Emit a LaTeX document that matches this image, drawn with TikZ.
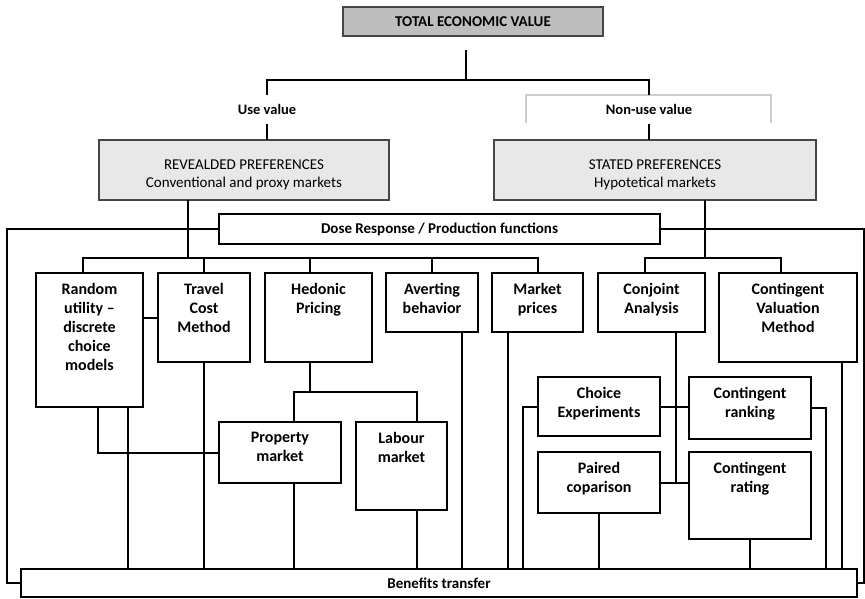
\documentclass[tikz,border=0pt]{standalone}
\usepackage{fontspec}
\setmainfont{Carlito}
\usetikzlibrary{positioning,calc}
\definecolor{TopGray}{RGB}{190,190,190}
\definecolor{PrefGray}{RGB}{232,232,232}
\definecolor{EdgeGray}{RGB}{70,70,70}
\definecolor{FrameLight}{RGB}{205,205,205}

\begin{document}
\begin{tikzpicture}[x=1pt,y=-1pt,line width=2pt,
  box/.style={draw,fill=white,line width=2pt,anchor=north west,inner sep=0pt,outer sep=0pt,
              font=\bfseries\fontsize{15}{19}\selectfont},
  pref/.style={box,draw=EdgeGray,fill=PrefGray,line width=1.6pt},
  txt/.style={anchor=north,align=center,inner sep=0pt,yshift=-9pt,
              font=\bfseries\fontsize{16}{19}\selectfont},
  preftxt/.style={txt,yshift=-9.5pt,font=\fontsize{15}{18}\selectfont},
  vlabel/.style={inner sep=0pt,outer sep=0pt,minimum height=29pt,
                 font=\bfseries\fontsize{14.5}{18}\selectfont}]
  \useasboundingbox (0,0) rectangle (865,599);

  % top of the tree
  \node[box,draw=EdgeGray,fill=TopGray,line width=1.6pt,minimum width=260pt,minimum height=29pt,
        font=\bfseries\fontsize{15}{18}\selectfont] (tev) at (343,7) {TOTAL ECONOMIC VALUE};
  \node[vlabel] (uv) at (267,109.5) {Use value};
  \node[vlabel] (nuv) at (649,109.5) {Non-use value};
  \draw[FrameLight,line width=1.2pt] (526,123) |- (771,95) -- (771,123);

  \node[pref,minimum width=290pt,minimum height=60pt,
        label={[preftxt]north:{REVEALDED PREFERENCES\\Conventional and proxy markets}}] (rp) at (99,140) {};
  \node[pref,minimum width=322pt,minimum height=60pt,
        label={[preftxt]north:{STATED PREFERENCES\\Hypotetical markets}}] (sp) at (494,140) {};

  % dose response bar
  \node[box,minimum width=441pt,minimum height=30pt] (dose) at (219,214) {Dose Response / Production functions};

  % methods row
  \node[box,minimum width=107pt,minimum height=134pt,
        label={[txt]north:{Random\\utility –\\discrete\\choice\\models}}] (ru) at (36,273) {};
  \node[box,minimum width=92pt,minimum height=89pt,
        label={[txt]north:{Travel\\Cost\\Method}}] (tc) at (158,273) {};
  \node[box,minimum width=107pt,minimum height=89pt,
        label={[txt]north:{Hedonic\\Pricing}}] (hp) at (265,273) {};
  \node[box,minimum width=92pt,minimum height=59pt,
        label={[txt]north:{Averting\\behavior}}] (ab) at (386,273) {};
  \node[box,minimum width=91pt,minimum height=59pt,
        label={[txt]north:{Market\\prices}}] (mp) at (492,273) {};
  \node[box,minimum width=107pt,minimum height=59pt,
        label={[txt]north:{Conjoint\\Analysis}}] (ca) at (598,273) {};
  \node[box,minimum width=138pt,minimum height=89pt,
        label={[txt]north:{Contingent\\Valuation\\Method}}] (cvm) at (719,273) {};

  % sub methods
  \node[box,minimum width=122pt,minimum height=61pt,
        label={[txt]north:{Property\\market}}] (pm) at (219,422) {};
  \node[box,minimum width=91pt,minimum height=88pt,
        label={[txt]north:{Labour\\market}}] (lm) at (356,422) {};
  \node[box,minimum width=122pt,minimum height=59pt,
        label={[txt]north:{Choice\\Experiments}}] (ce) at (538,377) {};
  \node[box,minimum width=122pt,minimum height=62pt,
        label={[txt]north:{Contingent\\ranking}}] (cr) at (689,377) {};
  \node[box,minimum width=122pt,minimum height=61pt,
        label={[txt]north:{Paired\\coparison}}] (pc) at (538,452) {};
  \node[box,minimum width=122pt,minimum height=87pt,
        label={[txt]north:{Contingent\\rating}}] (crt) at (689,452) {};

  % benefits transfer bar
  \node[box,minimum width=836pt,minimum height=28pt] (bt) at (21,569) {Benefits transfer};

  % connectors
  \coordinate (trunk) at (466,50);
  \coordinate (split) at (466,80);
  \coordinate (lbus) at (188,258);
  \coordinate (rbus) at (705,258);
  \coordinate (hbus) at (310,392);
  \coordinate (lrail) at (7,0);
  \coordinate (rrail) at (864,0);

  \draw (trunk) -- (split);
  \draw (uv.north) |- (split) -| (nuv.north);
  \draw (uv.south) -- (uv.south |- rp.north);
  \draw (nuv.south) -- (nuv.south |- sp.north);

  \draw (lbus |- rp.south) -- (lbus);
  \draw (rbus |- sp.south) -- (rbus);
  \draw ([xshift=-7pt]ru.north) |- (lbus) -| (mp.north);
  \draw (tc.north) -- (tc.north |- lbus);
  \draw (hbus |- hp.north) -- (hbus |- lbus);
  \draw (ab.north) -- (ab.north |- lbus);
  \draw ([xshift=-7pt]ca.north) |- (rbus) -| ([xshift=-7pt]cvm.north);

  \draw (dose.west) -| (lrail |- bt.west) -- (bt.west);
  \draw (dose.east) -| (rrail |- bt.east) -- (bt.east);

  \draw (tc.west) -- (tc.west -| ru.east);
  \draw ([xshift=8.5pt]ru.south) |- (pm.west);
  \draw (hbus |- hp.south) -- (hbus);
  \draw ([xshift=14pt]pm.north) |- (hbus) -| ([xshift=15.5pt]lm.north);

  \draw (ce.east) -- (ce.east -| cr.west);
  \draw (pc.east) -- (pc.east -| crt.west);
  \draw ([xshift=-29pt]ca.south east) -- ([xshift=-29pt]ca.south east |- pc.east);
  \draw (ce.west) -| ([xshift=-15pt]ce.west |- bt.north);
  \draw (cr.east) -| ([xshift=15pt]cr.east |- bt.north);

  \foreach \n/\dx in {ru.south east/-15, tc.south/0, pm.south/14, lm.south/15.5,
                      ab.south east/-16, mp.south west/16, pc.south/0, crt.south/0,
                      cvm.south east/-15}
    \draw ([xshift=\dx pt]\n) -- ([xshift=\dx pt]\n |- bt.north);
\end{tikzpicture}
\end{document}
